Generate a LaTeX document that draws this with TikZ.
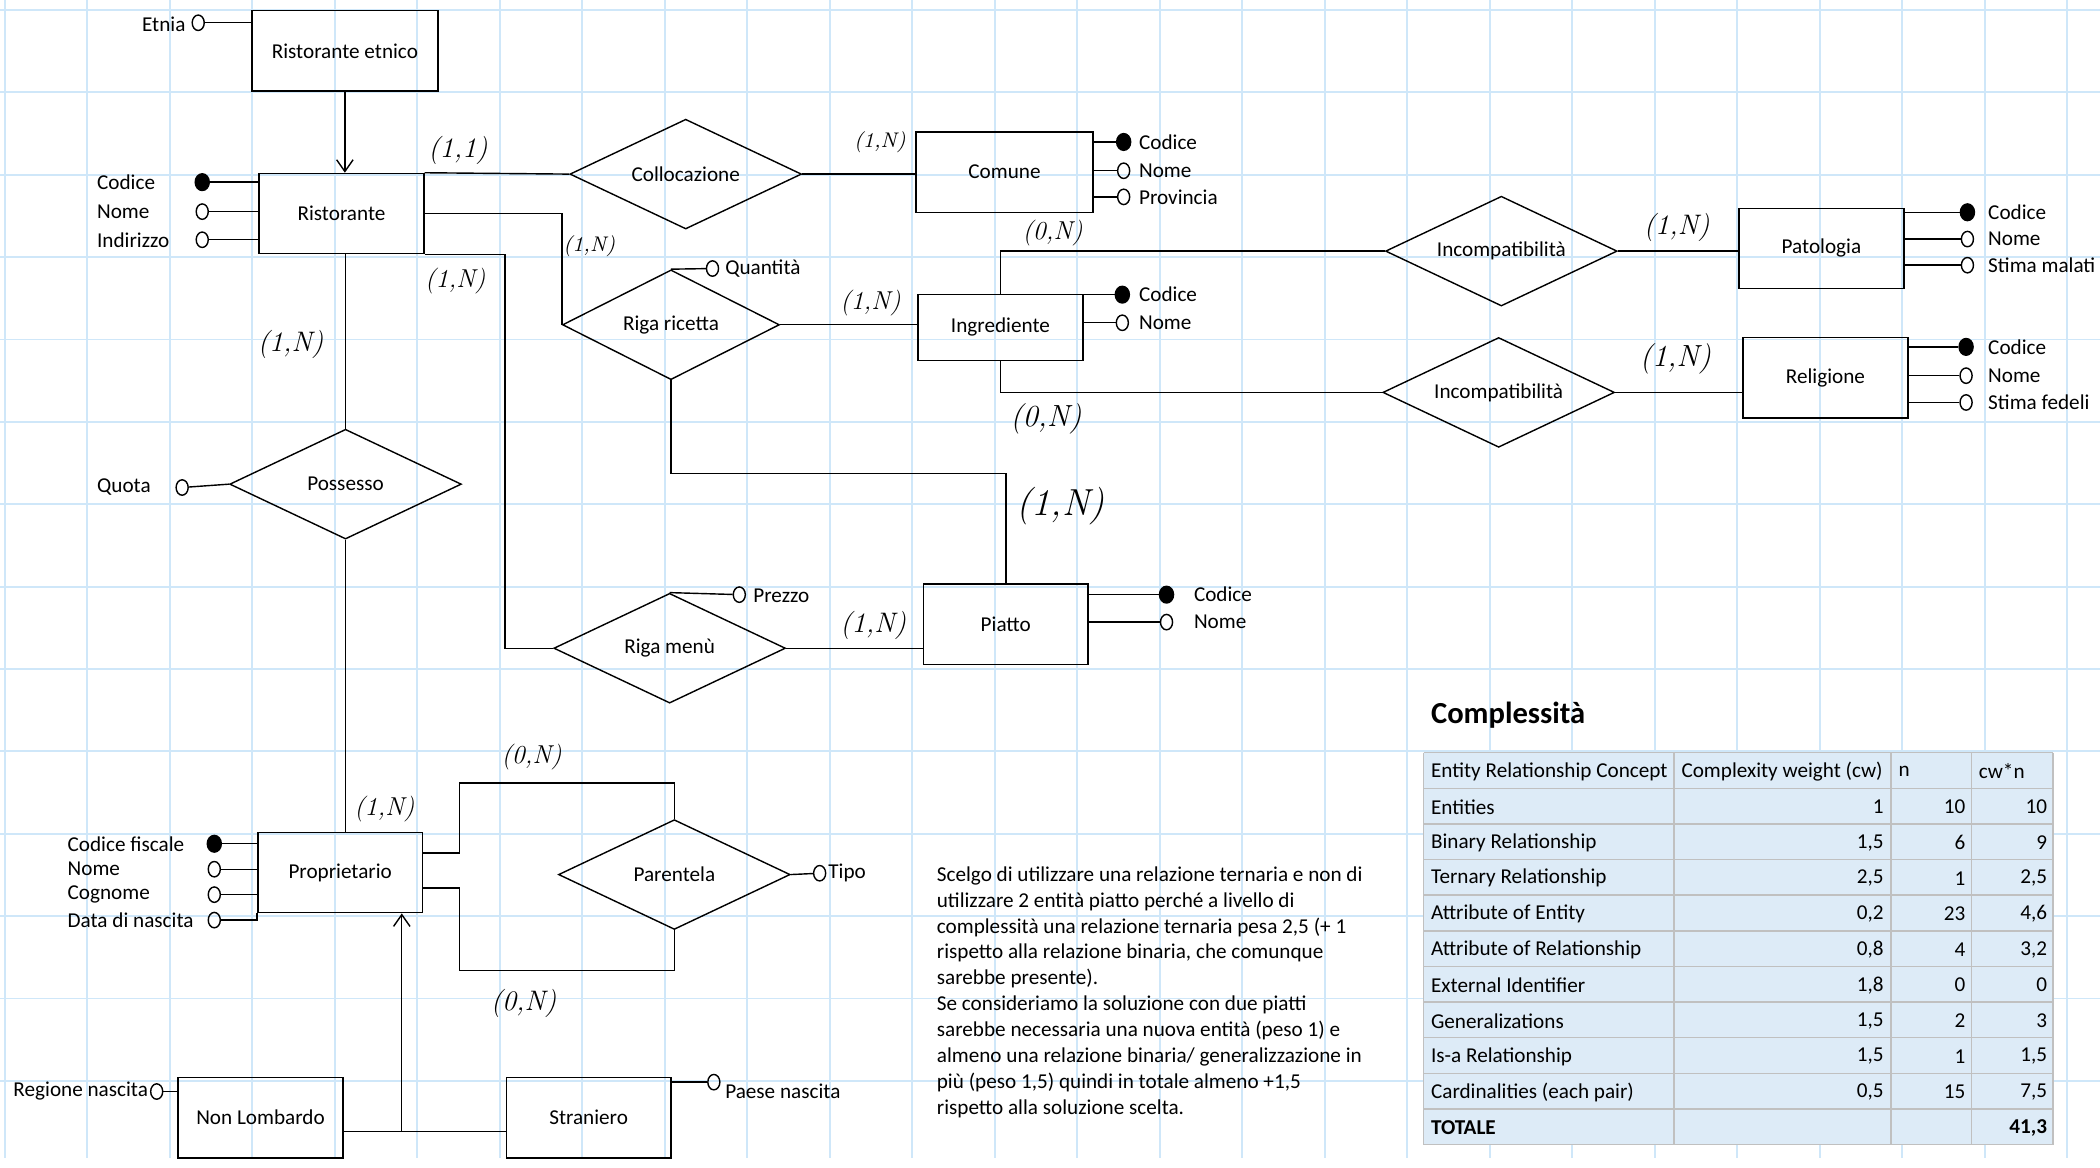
\documentclass[tikz,border=0pt]{standalone}
\usepackage{fontspec}
\newfontfamily\calibri{Carlito}
\usetikzlibrary{shapes.geometric,arrows.meta}
\definecolor{gridblue}{RGB}{207,231,249}
\definecolor{cellblue}{RGB}{221,235,247}
\definecolor{cellline}{RGB}{192,192,192}

\begin{document}
\begin{tikzpicture}[x=0.02cm, y=-0.02cm, line width=0.6pt,
  font=\calibri\fontsize{9}{11}\selectfont,
  entity/.style={draw, minimum width=2.46cm, minimum height=1.2cm, inner sep=2pt},
  relation/.style={draw, diamond, aspect=2.1, minimum width=3.46cm, minimum height=1.64cm, inner sep=1pt},
  key/.style={ellipse, draw, fill=black, inner sep=0pt, minimum width=0.21cm, minimum height=0.25cm},
  attr/.style={ellipse, draw, inner sep=0pt, minimum width=0.18cm, minimum height=0.23cm},
  attrname/.style={inner sep=0pt},
  cell/.style={inner sep=0pt},
  card/.style={font=\rmfamily\itshape\fontsize{#1}{#1}\selectfont},
  card/.default=12,
  isa/.style={-{Straight Barb[length=5pt,width=7pt]}},
  gridline/.style={gridblue, line width=0.8pt}]

\fill[white] (0,0) rectangle (1568,872);
\useasboundingbox (0,0) rectangle (1568,872);
\foreach \i in {0,...,25} \draw[gridline] (3.5+61.6*\i,0) -- (3.5+61.6*\i,865);
\foreach \j in {0,...,13} \draw[gridline] (0,7.5+61.5*\j) -- (1568,7.5+61.5*\j);

\node[entity, minimum width=2.78cm] (retn) at (257.5,38) {Ristorante etnico};
\node[entity] (rist) at (255,159.5) {Ristorante};
\node[entity, minimum width=2.64cm] (com) at (750,128.5) {Comune};
\node[entity, minimum height=0.98cm] (ing) at (747,244.5) {Ingrediente};
\node[entity] (pat) at (1360,185.5) {Patologia};
\node[entity] (rel) at (1363,282) {Religione};
\node[entity] (piat) at (751,466) {Piatto};
\node[entity] (prop) at (254,651.5) {Proprietario};
\node[entity] (nonl) at (194.5,834.5) {Non Lombardo};
\node[entity] (stra) at (439.5,834.5) {Straniero};

\node[relation] (coll) at (512,130) {Collocazione};
\node[relation, minimum width=3.24cm] (ric) at (501,242.5) {Riga ricetta};
\node[relation] (inc1) at (1121,187.5) {Incompatibilità};
\node[relation] (inc2) at (1119,293) {Incompatibilità};
\node[relation] (pos) at (258,361.5) {Possesso};
\node[relation] (menu) at (500,484) {Riga menù};
\node[relation] (par) at (503.5,653) {Parentela};

\node[attr] (etn) at (148,17) {};
\node[attrname, anchor=east] (etn-t) at (139,18) {Etnia};
\draw (etn) -- (etn -| retn.west);

\foreach \n/\y/\s/\t in {rcod/136/key/Codice, rnom/158/attr/Nome, rind/179/attr/Indirizzo} {
  \node[\s] (\n) at (151,\y) {};
  \node[attrname, anchor=west] (\n-t) at (72,\y) {\t};
  \draw (\n) -- (\n -| rist.west);
}
\foreach \n/\y/\s/\t in {ccod/106/key/Codice, cnom/127.5/attr/Nome, cpro/147/attr/Provincia} {
  \node[\s] (\n) at (839,\y) {};
  \node[attrname, anchor=west] (\n-t) at (850,\y) {\t};
  \draw (\n) -- (\n -| com.east);
}
\foreach \n/\y/\s/\t in {icod/220/key/Codice, inom/241/attr/Nome} {
  \node[\s] (\n) at (838,\y) {};
  \node[attrname, anchor=west] (\n-t) at (850,\y) {\t};
  \draw (\n) -- (\n -| ing.east);
}
\foreach \n/\y/\s/\t in {pcod/158.5/key/Codice, pnom/178.5/attr/Nome, pstm/198/attr/Stima malati} {
  \node[\s] (\n) at (1469,\y) {};
  \node[attrname, anchor=west] (\n-t) at (1484,\y) {\t};
  \draw (\n) -- (\n -| pat.east);
}
\foreach \n/\y/\s/\t in {gcod/259/key/Codice, gnom/280.5/attr/Nome, gstf/300.5/attr/Stima fedeli} {
  \node[\s] (\n) at (1468,\y) {};
  \node[attrname, anchor=west] (\n-t) at (1484,\y) {\t};
  \draw (\n) -- (\n -| rel.east);
}
\foreach \n/\y/\s/\t in {tcod/444/key/Codice, tnom/464.5/attr/Nome} {
  \node[\s] (\n) at (871,\y) {};
  \node[attrname, anchor=west] (\n-t) at (891,\y) {\t};
  \draw (\n) -- (\n -| piat.east);
}
\foreach \n/\y/\s/\t in {ocod/630/key/Codice fiscale, onom/649/attr/Nome, ocog/668/attr/Cognome} {
  \node[\s] (\n) at (160,\y) {};
  \node[attrname, anchor=west] (\n-t) at (50,\y) {\t};
  \draw (\n) -- (\n -| prop.west);
}
\node[attr] (odat) at (160,687) {};
\node[attrname, anchor=west] (odat-t) at (50,687) {Data di nascita};
\draw (odat) -| (prop.south west);

\node[attr] (quota) at (136,364) {};
\node[attrname, anchor=west] (quota-t) at (72,364) {Quota};
\draw (quota) -- (pos.west);
\node[attr] (quan) at (532,200.5) {};
\node[attrname, anchor=west] (quan-t) at (541,200.5) {Quantità};
\draw (ric.north) -- (quan);
\node[attr] (prez) at (552,444) {};
\node[attrname, anchor=west] (prez-t) at (562,445) {Prezzo};
\draw (menu.north) -- (prez);
\node[attr] (tipo) at (612,652) {};
\node[attrname, anchor=west] (tipo-t) at (618,652) {Tipo};
\draw (par.east) -- (tipo);
\node[attr] (regn) at (117,815) {};
\node[attrname, anchor=east] (regn-t) at (111,815) {Regione nascita};
\draw (regn) -- (regn -| nonl.west);
\node[attr] (paes) at (533,808) {};
\node[attrname, anchor=west] (paes-t) at (541,815) {Paese nascita};
\draw (paes) -- (paes -| stra.east);

\draw[isa] (retn.south) -- (retn.south |- rist.north);
\draw (rist.north east) -- (coll.west);
\draw (coll.east) -- (coll.east -| com.west);
\draw (rist.east) -| (ric.west);
\draw (ric.east) -- (ric.east -| ing.west);
\draw (ric.south) -- ++(0,69.5) -| (piat.north);
\draw (ing.north) |- (inc1.west);
\draw (ing.south) |- (inc2.west);
\draw (inc1.east) -- (inc1.east -| pat.west);
\draw (inc2.east) -- (inc2.east -| rel.west);
\draw (pos.north |- rist.south) -- (pos.north);
\draw (rist.south east) -- ++(60,0) |- (menu.west);
\draw (pos.south) -- (pos.south |- prop.north);
\draw (menu.east) -- (menu.east -| piat.west);
\draw ([yshift=0.29cm]prop.east) -- ++(27,0) |- ([yshift=0.54cm]par.north) -- (par.north);
\draw ([yshift=-0.23cm]prop.east) -- ++(27,0) |- ([yshift=-0.6cm]par.south) -- (par.south);
\coordinate (gen) at (300,845);
\draw (gen -| nonl.east) -- (gen -| stra.west);
\draw[isa] (gen) -- (gen |- prop.south);

\node[card] (k1) at (342,112) {(1,1)};
\node[card=9] (k2) at (657,106) {(1,N)};
\node[card=9] (k3) at (440,184) {(1,N)};
\node[card=11] (k4) at (650,226) {(1,N)};
\node[card=11] (k5) at (786,174) {(0,N)};
\node[card=13] (k6) at (781,313) {(0,N)};
\node[card] (k7) at (1252,170) {(1,N)};
\node[card=13] (k8) at (1251,268) {(1,N)};
\node[card] (k9) at (217,257) {(1,N)};
\node[card=11] (k10) at (340,210) {(1,N)};
\node[card=16] (k11) at (792,378) {(1,N)};
\node[card] (k12) at (652,467) {(1,N)};
\node[card=11] (k13) at (287,604) {(1,N)};
\node[card=11] (k14) at (397,565) {(0,N)};
\node[card] (k15) at (391,749) {(0,N)};

\node[anchor=north west, align=left, inner sep=0pt, font=\calibri\fontsize{9}{11}\selectfont] (note) at (699,646.5)
  {Scelgo di utilizzare una relazione ternaria e non di\\
   utilizzare 2 entità piatto perché a livello di\\
   complessità una relazione ternaria pesa 2,5 (+ 1\\
   rispetto alla relazione binaria, che comunque\\
   sarebbe presente).\\
   Se consideriamo la soluzione con due piatti\\
   sarebbe necessaria una nuova entità (peso 1) e\\
   almeno una relazione binaria/ generalizzazione in\\
   più (peso 1,5) quindi in totale almeno +1,5\\
   rispetto alla soluzione scelta.};

\node[anchor=west, inner sep=0pt, font=\calibri\bfseries\fontsize{13}{15}\selectfont] (title) at (1068,534) {Complessità};
\fill[cellblue] (1063,562) rectangle (1533,855);
\foreach \k in {0,...,11} \draw[cellline] (1063,562+26.6*\k) -- (1533,562+26.6*\k);
\foreach \x in {1063,1250,1412,1472,1533} \draw[cellline] (\x,562) -- (\x,855);
\node[cell, anchor=west] (h1) at (1068,576) {Entity Relationship Concept};
\node[cell, anchor=west] (h2) at (1255,576) {Complexity weight (cw)};
\node[cell, anchor=west] (h3) at (1417,576) {n};
\node[cell, anchor=west] (h4) at (1477,576) {cw*n};
\foreach \t/\w/\m/\p [count=\k] in {Entities/1/10/10, Binary Relationship/{1,5}/6/9,
    Ternary Relationship/{2,5}/1/{2,5}, Attribute of Entity/{0,2}/23/{4,6},
    Attribute of Relationship/{0,8}/4/{3,2}, External Identifier/{1,8}/0/0,
    Generalizations/{1,5}/2/3, Is-a Relationship/{1,5}/1/{1,5},
    Cardinalities (each pair)/{0,5}/15/{7,5}} {
  \node[cell, anchor=west] (t\k) at (1068,576+26.6*\k) {\t};
  \node[cell, anchor=east] (w\k) at (1407,576+26.6*\k) {\w};
  \node[cell, anchor=east] (m\k) at (1468,576+26.6*\k) {\m};
  \node[cell, anchor=east] (p\k) at (1529,576+26.6*\k) {\p};
}
\node[cell, anchor=west, font=\calibri\bfseries\fontsize{9}{11}\selectfont] (tot) at (1068,842) {TOTALE};
\node[cell, anchor=east, font=\calibri\bfseries\fontsize{9}{11}\selectfont] (totv) at (1529,842) {41,3};
\end{tikzpicture}
\end{document}
